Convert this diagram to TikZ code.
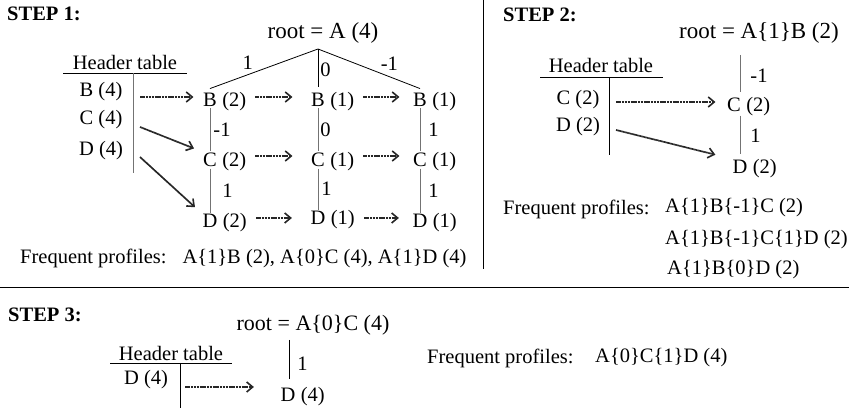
\documentclass[tikz,border=0pt]{standalone}
\usepackage{fontspec}
\setmainfont{Liberation Serif}
\usetikzlibrary{arrows.meta,calc}
\newcommand\nfont{\fontsize{20.5}{24}\selectfont}
\newcommand\rfont{\fontsize{23}{27}\selectfont}
\newcommand\tn[4]{\node[lt] (#1) at #2 {#3}; \node[cnt] (#1n) at ($(#1.base east)+(3.6,0)$) {#4};}
\begin{document}
\begin{tikzpicture}[x=1pt,y=-1pt,
  every node/.style={font=\nfont, inner sep=0pt},
  steplbl/.style={font=\nfont\bfseries, anchor=west},
  rootlbl/.style={font=\rfont},
  lt/.style={inner sep=1.5pt},
  cnt/.style={anchor=base west},
  glin/.style={draw=black!55, line width=0.9pt},
  blin/.style={draw=black, line width=0.8pt},
  arr/.style={line width=1.7pt, draw=black!85, dash pattern=on 1.1pt off 0.35pt, -{Straight Barb[length=6pt,width=10pt,line width=1.6pt]}}]
\useasboundingbox (0,0) rectangle (849,411);

% ---------- STEP 1 ----------
\node[steplbl] (s1) at (7,14) {STEP 1:};
\node[rootlbl] (r1) at (323,33) {root = A (4)};
\coordinate (apex) at (318,49);

\tn{b2}{(210,100)}{B}{(2)}
\tn{c2}{(210,160)}{C}{(2)}
\tn{d2}{(210,221)}{D}{(2)}
\tn{b1m}{(318,100)}{B}{(1)}
\tn{c1m}{(318,160)}{C}{(1)}
\tn{d1m}{(318,218)}{D}{(1)}
\tn{b1r}{(420,100)}{B}{(1)}
\tn{c1r}{(420,160)}{C}{(1)}
\tn{d1r}{(420,221)}{D}{(1)}

\draw[blin] (apex) -- ([yshift=3pt]b2.north) node[pos=.65, above=5pt] {1};
\draw[blin] (apex) -- ([yshift=5pt]b1m.north) node[pos=.55, right=2pt] {0};
\draw[blin] (apex) -- ([yshift=3pt]b1r.north) node[pos=.7, above=6pt] {-1};

\draw[glin] (b2) -- (c2) node[midway, right=3pt] {-1};
\draw[glin] (c2) -- (d2) node[midway, right=12pt] {1};
\draw[glin] (b1m) -- (c1m) node[midway, right=2pt] {0};
\draw[glin] (c1m) -- (d1m) node[midway, right=3pt] {1};
\draw[glin] (b1r) -- (c1r) node[midway, right=8pt] {1};
\draw[glin] (c1r) -- (d1r) node[midway, right=8pt] {1};

\node (ht1) at (125,62) {Header table};
\draw[blin] (63,73) -- (187,73);
\draw[glin] (133,73) -- (133,173);
\node (hb1) at (101,92) {B (4)};
\node (hc1) at (101,120) {C (4)};
\node (hd1) at (101,151) {D (4)};

\coordinate (sb1) at (140,97);
\coordinate (sc1) at (140,127);
\coordinate (sd1) at (140,157);
\draw[arr, shorten >=8pt] (sb1) -- (sb1 -| b2.west);
\draw[arr, shorten >=8pt] (sc1) -- (c2.north west);
\draw[arr, shorten >=8pt] (sd1) -- (d2.north west);

\draw[arr, shorten <=9pt, shorten >=17pt] ([yshift=3pt]b2.east -| b2n.east) -- ([yshift=3pt]b2.east -| b1m.west);
\draw[arr, shorten <=9pt, shorten >=12pt] ([yshift=3pt]b1m.east -| b1mn.east) -- ([yshift=3pt]b1m.east -| b1r.west);
\draw[arr, shorten <=9pt, shorten >=17pt] ([yshift=4pt]c2.east -| c2n.east) -- ([yshift=4pt]c2.east -| c1m.west);
\draw[arr, shorten <=9pt, shorten >=12pt] ([yshift=4pt]c1m.east -| c1mn.east) -- ([yshift=4pt]c1m.east -| c1r.west);
\draw[arr, shorten <=9pt, shorten >=17pt] ([yshift=3pt]d2.east -| d2n.east) -- ([yshift=3pt]d2.east -| d1m.west);
\draw[arr, shorten <=9pt, shorten >=12pt] ([yshift=0pt]d1m.east -| d1mn.east) -- ([yshift=0pt]d1m.east -| d1r.west);

\node[anchor=west] (fp1) at (20,258) {Frequent profiles:\hspace{16pt}A\{1\}B (2), A\{0\}C (4), A\{1\}D (4)};

% ---------- separators ----------
\draw[blin] (483,0) -- (483,269);
\draw[blin] (0,287) -- (849,287);

% ---------- STEP 2 ----------
\node[steplbl] (s2) at (503,15) {STEP 2:};
\node[rootlbl] (r2) at (759,33) {root = A\{1\}B (2)};
\coordinate (t2) at (740,55);
\tn{c2b}{(734,105)}{C}{(2)}
\tn{d2b}{(740,167)}{D}{(2)}
\draw[glin, shorten >=4pt] (t2) -- (t2 |- c2b.north) node[midway, right=10pt] {-1};
\draw[glin, shorten <=2pt, shorten >=5pt] (c2b.south -| t2) -- (d2b.north) node[midway, right=10pt] {1};

\node (ht2) at (601,65) {Header table};
\draw[blin] (540,77) -- (663,77);
\draw[blin] (609,77) -- (609,155);
\node (hc2) at (578,100) {C (2)};
\node (hd2) at (578,127) {D (2)};
\coordinate (sc2) at (616,102);
\coordinate (sd2) at (616,130);
\draw[arr, shorten >=10pt] (sc2) -- (sc2 -| c2b.west);
\draw[arr, shorten >=16pt] (sd2) -- (d2b.north west);

\node[anchor=west] (fp2) at (503,209) {Frequent profiles:};
\node[anchor=west] (fp2a) at (665,208) {A\{1\}B\{-1\}C (2)};
\node[anchor=west] (fp2b) at (665,240) {A\{1\}B\{-1\}C\{1\}D (2)};
\node[anchor=west] (fp2c) at (667,270) {A\{1\}B\{0\}D (2)};

% ---------- STEP 3 ----------
\node[steplbl] (s3) at (8,315) {STEP 3:};
\node[rootlbl, font=\fontsize{22}{26}\selectfont] (r3) at (313,325) {root = A\{0\}C (4)};
\coordinate (t3) at (289,340);
\tn{d3}{(288,395)}{D}{(4)}
\draw[blin, shorten >=8pt] (t3) -- (t3 |- d3.north) node[midway, right=8pt] {1};

\node (ht3) at (171,353) {Header table};
\draw[blin] (110,363) -- (232,363);
\draw[blin] (180,363) -- (180,408);
\node (hd3) at (146,380) {D (4)};
\coordinate (sd3) at (185,387);
\draw[arr, shorten >=25pt] (sd3) -- (sd3 -| d3.west);

\node[anchor=west] (fp3) at (427,358) {Frequent profiles:};
\node[anchor=west] (fp3a) at (595,358) {A\{0\}C\{1\}D (4)};
\end{tikzpicture}
\end{document}
